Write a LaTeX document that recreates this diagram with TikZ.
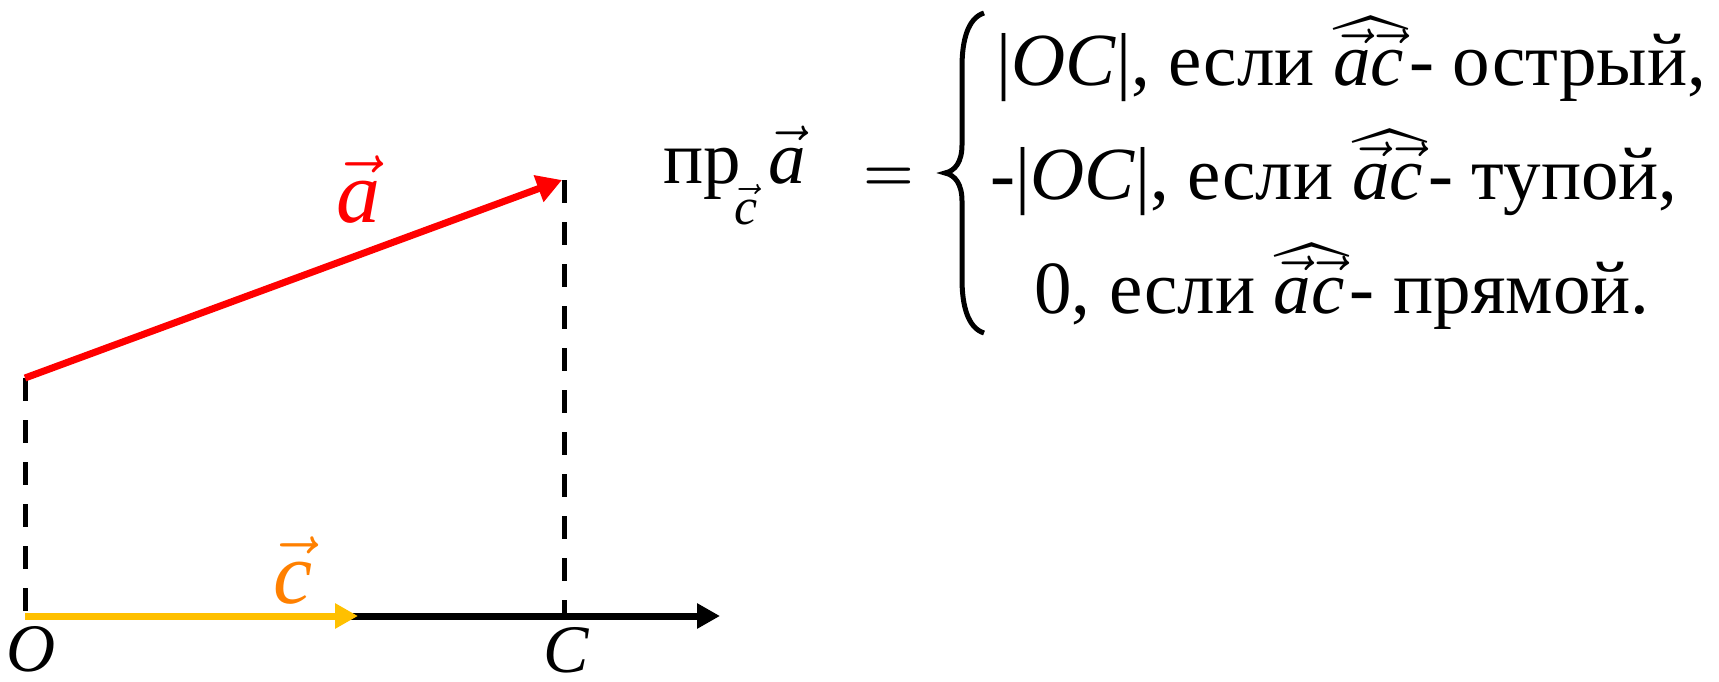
\RequirePackage{fix-cm}
\documentclass[tikz,border=0pt]{standalone}
\usepackage{amsmath}
\usepackage{fontspec}
\setmainfont{Liberation Serif}
\usetikzlibrary{arrows.meta}
\DeclareFontShape{OMX}{cmex}{m}{n}{<->cmex10}{}
\definecolor{vred}{RGB}{255,0,0}
\definecolor{vyellow}{RGB}{255,192,0}
\definecolor{vorange}{RGB}{255,128,0}
\newcommand{\vi}[1]{\vec{\textit{#1}}}
\newcommand{\angac}{\rlap{$\vi{a}\vi{c}$}$\widehat{\hphantom{\vi{a}\vi{c}}\rule{0pt}{0.6em}\kern5pt}$}
\tikzset{
  dashln/.style={line width=5pt, dash pattern=on 23pt off 19pt},
  vecln/.style={line width=7pt, -{Triangle[length=23pt,width=24pt]}},
  ptlabel/.style={font=\fontsize{68}{80}\selectfont\itshape, inner sep=0pt, anchor=base},
  veclabel/.style={font=\fontsize{88}{100}\selectfont, inner sep=0pt, anchor=base},
  formula/.style={font=\fontsize{75}{90}\selectfont, inner sep=0pt, anchor=base west}
}
\begin{document}
\begin{tikzpicture}[x=1pt,y=-1pt]
\path[use as bounding box] (0,0) rectangle (1719,682);
% points
\coordinate (O) at (25,616);
\coordinate (A0) at (25,378);
\coordinate (A1) at (562,180);
\coordinate (Ctop) at (564,180);
\coordinate (C) at (564,616);
\coordinate (Cend) at (358,616);
\coordinate (Xend) at (720,616);
% dashed
\draw[dashln] (A0) -- (O);
\draw[dashln] (Ctop) -- (C);
% axis
\draw[vecln, black] (O) -- (Xend);
\draw[vecln, vyellow] (O) -- (Cend);
\draw[vecln, vred, -{Triangle[length=25pt,width=27pt]}] (A0) -- (A1);
% labels
\node[ptlabel] (Olab) at (31,671) {O};
\node[ptlabel] (Clab) at (566,672) {C};
\node[veclabel, text=vred] (alab) at (358,222) {$\vi{a}$};
\node[veclabel, text=vorange] (clab) at (293,603) {$\vi{c}$};
% formula
\node[formula] (pr) at (663,183) {пр};
\node[font=\fontsize{52}{60}\selectfont, inner sep=0pt, anchor=base west] (prsub) at (734,224) {$\vi{c}$};
\node[formula] (pra) at (768,183) {$\vi{a}$};
\node[font=\fontsize{58}{70}\selectfont\boldmath, inner sep=0pt, anchor=base] (eq) at (889,190) {$=$};
\draw[line width=5pt] (984,13) .. controls (968,18) and (962,40) .. (962,67) -- (962,145)
  .. controls (962,162) and (955,171) .. (945,173)
  .. controls (955,175) and (962,184) .. (962,201) -- (962,279)
  .. controls (962,306) and (968,328) .. (984,333);
\node[formula] (l1) at (996,86) {|\textit{OC}|, если \angac- острый,};
\node[formula] (l2) at (990,199) {-|\textit{OC}|, если \angac- тупой,};
\node[formula] (l3) at (1034,313) {0, если \angac- прямой.};
\end{tikzpicture}
\end{document}
